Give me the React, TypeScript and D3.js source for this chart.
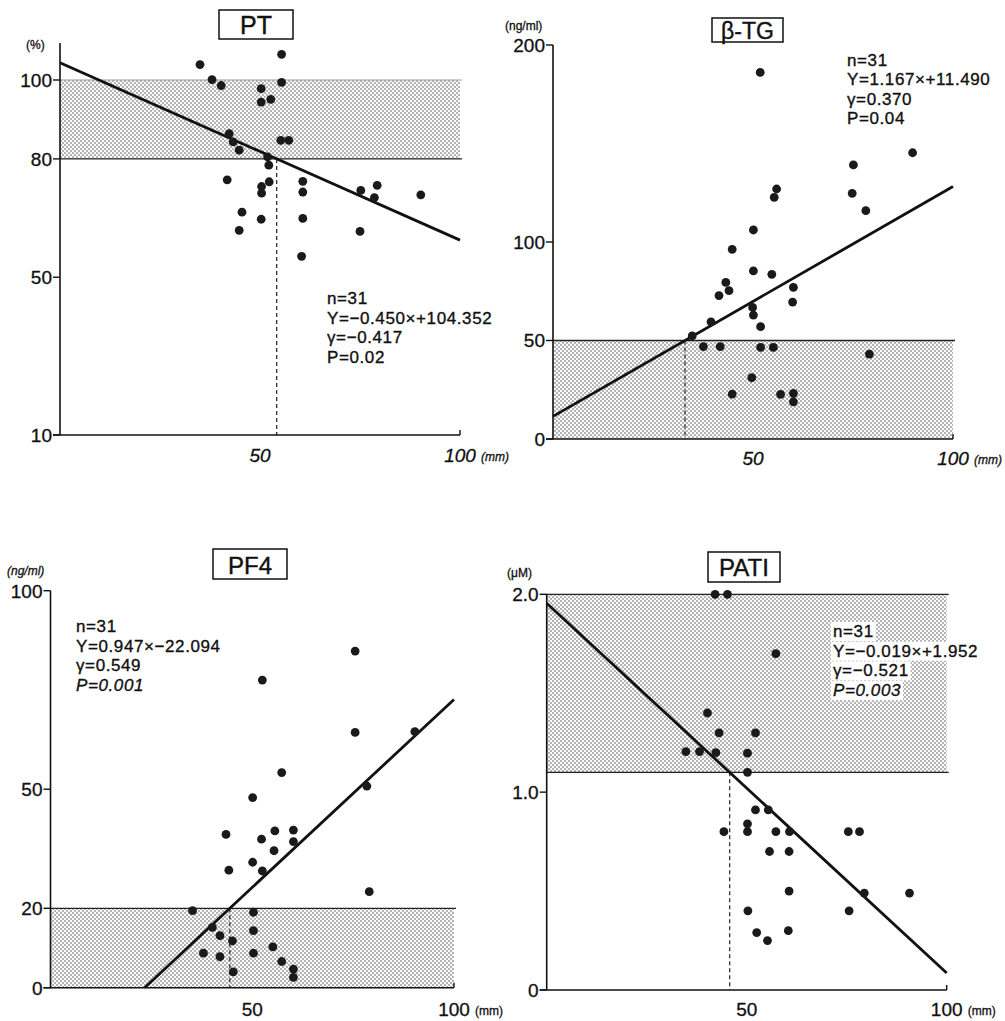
import React, { useEffect, useRef } from 'react';
import * as d3 from 'd3';

// ---------- data ----------
const ptX = [35, 38, 40.3, 50.3, 50.3, 52.7, 55.4, 55.4, 55.2, 57.2, 42.3, 43.3, 44.8, 51.9, 52.2, 41.8, 50.4, 50.4, 52.3, 60.7, 60.7, 60.7, 60.4, 45.5, 44.8, 50.3, 75.2, 79.3, 78.6, 90.2, 75];
const ptY = [103.9, 100.1, 98.6, 97.8, 94.4, 95.1, 106.5, 99.4, 84.7, 84.7, 86.4, 84.3, 82.2, 80.5, 78.4, 74.7, 73.0, 71.3, 74.2, 74.3, 71.6, 64.9, 55.3, 66.5, 61.9, 64.7, 72.0, 73.3, 70.2, 70.9, 61.6];

const tgX = [51.8, 89.9, 75.1, 74.8, 78.2, 55.9, 55.3, 50.1, 44.8, 50.1, 54.7, 43.2, 44, 41.5, 60.1, 59.9, 49.9, 50.1, 51.9, 39.5, 34.8, 37.6, 41.8, 51.9, 55.1, 79.1, 49.7, 44.8, 56.9, 60.1, 60.1];
const tgY = [186.1, 145.3, 139.1, 124.7, 115.9, 126.9, 122.7, 106.1, 96.3, 85.3, 83.6, 79.5, 75.3, 72.8, 77.0, 69.5, 66.8, 62.9, 57.0, 59.5, 52.3, 46.9, 46.9, 46.5, 46.5, 43.1, 31.1, 22.8, 22.7, 23.2, 18.9];

const pf4X = [75.5, 52.5, 75.5, 90.3, 57.3, 78.4, 50.1, 43.5, 55.6, 60.2, 52.3, 60.2, 55.4, 50.1, 44.2, 52.5, 79.0, 35.2, 50.3, 40.1, 50.3, 42.0, 45.1, 55.1, 37.9, 42.0, 50.3, 57.3, 45.3, 60.2, 60.2];
const pf4Y = [84.8, 77.5, 64.3, 64.5, 54.2, 50.8, 47.9, 38.6, 39.5, 39.7, 37.4, 36.8, 34.5, 31.6, 29.6, 29.4, 24.2, 19.4, 19.0, 15.2, 14.4, 13.1, 11.8, 10.3, 8.7, 7.8, 8.7, 6.6, 4.0, 4.7, 2.6];

const patiX = [42.1, 45.2, 57.3, 40.2, 43.1, 52.2, 34.8, 38.2, 42.3, 50.2, 50.2, 52.2, 55.4, 50.2, 50.2, 44.3, 57.3, 60.7, 75.4, 78.2, 55.7, 60.6, 60.6, 79.4, 90.7, 50.3, 75.6, 52.5, 60.4, 55.2];
const patiY = [2.0, 2.0, 1.70, 1.40, 1.30, 1.30, 1.205, 1.205, 1.20, 1.197, 1.10, 0.91, 0.91, 0.84, 0.80, 0.80, 0.80, 0.80, 0.80, 0.80, 0.70, 0.70, 0.50, 0.49, 0.49, 0.40, 0.40, 0.29, 0.30, 0.25];

const titles = ['PT', 'β-TG', 'PF4', 'PATI'];
const yUnits = ['(%)', '(ng/ml)', '(ng/ml)', '(μM)'];
const ptTicks = [10, 50, 80, 100];
const tgTicks = [0, 50, 100, 200];
const pf4Ticks = [0, 20, 50, 100];
const patiTicks = [0, 1.0, 2.0];
const xTicks = [50, 100];
const xUnit = '(mm)';

// normal ranges (shaded bands)
const ptBand = [80, 100];
const tgBand = [0, 50];
const pf4Band = [0, 20];
const patiBand = [1.1, 2.0];

// regression line values at X=0 and X=100
const ptFit = [104.35, 59.4];
const tgFit = [11.49, 128.19];
const pf4Fit = [-22.09, 72.61];
const patiFit = [1.955, 0.086];

// threshold where the dashed drop line starts
const ptCut = 80;
const tgCut = 50;
const pf4Cut = 20;
const patiCut = 1.1;

const ptStats = ['n=31', 'Y=−0.450×+104.352', 'γ=−0.417', 'P=0.02'];
const tgStats = ['n=31', 'Y=1.167×+11.490', 'γ=0.370', 'P=0.04'];
const pf4Stats = ['n=31', 'Y=0.947×−22.094', 'γ=0.549', 'P=0.001'];
const patiStats = ['n=31', 'Y=−0.019×+1.952', 'γ=−0.521', 'P=0.003'];

const FONT = "'Liberation Sans', Arial, Helvetica, sans-serif";

type Panel = {
  title: string; titleBox: number[]; titleSize: number; titleBase: number;
  xs: number[]; ys: number[]; xr: number[]; yd: number[]; yr: number[]; axisTop: number;
  ticks: number[]; fmt: (v: number) => string; unit: string; unitPos: number[];
  band: number[]; bandTopGray: boolean; fit: number[]; cut: number;
  stats: string[]; statsPos: number[]; statsDy: number; italicP: boolean; italicX: boolean;
  xLabelBase: number; whiteBg: boolean; unitItalic: boolean;
};

const panels: Panel[] = [
  {
    title: titles[0], titleBox: [219, 10, 74, 29], titleSize: 25, titleBase: 33.5,
    xs: ptX, ys: ptY, xr: [60, 460], yd: [10, 100], yr: [435, 80], axisTop: 43,
    ticks: ptTicks, fmt: d3.format('d'), unit: yUnits[0], unitPos: [26, 49],
    band: ptBand, bandTopGray: true, fit: ptFit, cut: ptCut,
    stats: ptStats, statsPos: [327, 304], statsDy: 19.7, italicP: false, italicX: true,
    xLabelBase: 462, whiteBg: false, unitItalic: false,
  },
  {
    title: titles[1], titleBox: [712, 18, 71, 24], titleSize: 23, titleBase: 38.5,
    xs: tgX, ys: tgY, xr: [553, 953], yd: [0, 200], yr: [439, 45], axisTop: 45,
    ticks: tgTicks, fmt: d3.format('d'), unit: yUnits[1], unitPos: [505, 30],
    band: tgBand, bandTopGray: false, fit: tgFit, cut: tgCut,
    stats: tgStats, statsPos: [847, 66], statsDy: 19.3, italicP: false, italicX: true,
    xLabelBase: 465, whiteBg: false, unitItalic: false,
  },
  {
    title: titles[2], titleBox: [213, 549, 74, 30], titleSize: 24, titleBase: 573.5,
    xs: pf4X, ys: pf4Y, xr: [50.5, 454], yd: [0, 100], yr: [987.7, 590.7], axisTop: 590.7,
    ticks: pf4Ticks, fmt: d3.format('d'), unit: yUnits[2], unitPos: [7, 575],
    band: pf4Band, bandTopGray: false, fit: pf4Fit, cut: pf4Cut,
    stats: pf4Stats, statsPos: [76, 632], statsDy: 19.6, italicP: true, italicX: false,
    xLabelBase: 1016, whiteBg: false, unitItalic: true,
  },
  {
    title: titles[3], titleBox: [708, 552, 72, 30], titleSize: 24, titleBase: 576,
    xs: patiX, ys: patiY, xr: [546.7, 946.7], yd: [0, 2], yr: [990, 594.3], axisTop: 594.3,
    ticks: patiTicks, fmt: (v: number) => (v === 0 ? '0' : d3.format('.1f')(v)), unit: yUnits[3], unitPos: [507, 577],
    band: patiBand, bandTopGray: false, fit: patiFit, cut: patiCut,
    stats: patiStats, statsPos: [833, 637], statsDy: 19.7, italicP: true, italicX: false,
    xLabelBase: 1016, whiteBg: true, unitItalic: false,
  },
];

export default function App() {
  const ref = useRef<SVGSVGElement>(null);

  useEffect(() => {
    const svg = d3.select(ref.current);
    svg.selectAll('*').remove();

    const defs = svg.append('defs');
    const pat = defs.append('pattern').attr('id', 'stipple').attr('patternUnits', 'userSpaceOnUse')
      .attr('width', 4).attr('height', 4);
    pat.append('rect').attr('width', 4).attr('height', 4).attr('fill', '#fafafa');
    pat.append('circle').attr('cx', 1).attr('cy', 1).attr('r', 0.8).attr('fill', '#5a5a5a');
    pat.append('circle').attr('cx', 3).attr('cy', 3).attr('r', 0.8).attr('fill', '#5a5a5a');

    svg.append('rect').attr('width', 1005).attr('height', 1021).attr('fill', '#fff');

    panels.forEach((p) => {
      const g = svg.append('g').attr('font-family', FONT);
      const x = d3.scaleLinear().domain([0, 100]).range(p.xr);
      const y = d3.scaleLinear().domain(p.yd).range(p.yr);
      const fitY = (v: number) => p.fit[0] + (p.fit[1] - p.fit[0]) * v / 100;

      // band
      g.append('rect').attr('x', x(0)).attr('y', y(p.band[1]))
        .attr('width', x(100) - x(0)).attr('height', y(p.band[0]) - y(p.band[1]))
        .attr('fill', 'url(#stipple)');
      g.append('line').attr('x1', x(0)).attr('x2', x(100) + 2).attr('y1', y(p.band[1])).attr('y2', y(p.band[1]))
        .attr('stroke', p.bandTopGray ? '#999' : '#222').attr('stroke-width', p.bandTopGray ? 1 : 1.3);
      if (p.band[0] > p.yd[0]) {
        g.append('line').attr('x1', x(0)).attr('x2', x(100) + 2).attr('y1', y(p.band[0])).attr('y2', y(p.band[0]))
          .attr('stroke', '#222').attr('stroke-width', 1.3);
      }

      // dashed drop line
      const xc = (p.cut - p.fit[0]) / (p.fit[1] - p.fit[0]) * 100;
      g.append('line').attr('x1', x(xc)).attr('x2', x(xc)).attr('y1', y(p.cut)).attr('y2', y(p.yd[0]))
        .attr('stroke', '#222').attr('stroke-width', 1.2).attr('stroke-dasharray', '4,3');

      // stats text
      const st = g.append('g').attr('font-size', 17).attr('fill', '#111').attr('letter-spacing', 0.6)
        .attr('stroke', '#111').attr('stroke-width', 0.35);
      p.stats.forEach((s, i) => {
        const t = st.append('text').attr('x', p.statsPos[0]).attr('y', p.statsPos[1] + i * p.statsDy)
          .attr('font-style', p.italicP && i === 3 ? 'italic' : 'normal').text(s);
        if (p.whiteBg) {
          const bb = (t.node() as SVGTextElement).getBBox();
          st.insert('rect', 'text').attr('x', bb.x - 2).attr('y', bb.y).attr('width', bb.width + 4)
            .attr('height', bb.height).attr('fill', '#fff').attr('stroke', 'none');
        }
      });

      // regression line
      let xs0 = 0;
      if (fitY(0) < p.yd[0]) xs0 = (p.yd[0] - p.fit[0]) / (p.fit[1] - p.fit[0]) * 100;
      g.append('path')
        .attr('d', d3.line<number>().x((v) => x(v)).y((v) => y(fitY(v)))([xs0, 100]))
        .attr('stroke', '#111').attr('stroke-width', 2.8).attr('fill', 'none');

      // points
      g.append('g').selectAll('circle').data(p.xs).join('circle')
        .attr('cx', (d) => x(d)).attr('cy', (_d, i) => y(p.ys[i])).attr('r', 4.4).attr('fill', '#1a1a1a');

      // axes
      const y0 = y(p.yd[0]);
      g.append('line').attr('x1', x(0)).attr('x2', x(0)).attr('y1', p.axisTop).attr('y2', y0)
        .attr('stroke', '#111').attr('stroke-width', 1.6);
      g.append('line').attr('x1', x(0) - 7).attr('x2', x(100)).attr('y1', y0).attr('y2', y0)
        .attr('stroke', '#111').attr('stroke-width', 1.6);
      const lab = g.append('g').attr('fill', '#111').attr('stroke', '#111').attr('stroke-width', 0.3);
      p.ticks.forEach((v) => {
        g.append('line').attr('x1', x(0) - 7).attr('x2', x(0)).attr('y1', y(v)).attr('y2', y(v))
          .attr('stroke', '#111').attr('stroke-width', 1.4);
        lab.append('text').attr('x', x(0) - 8).attr('y', y(v)).attr('dy', '0.36em')
          .attr('text-anchor', 'end').attr('font-size', 19).text(p.fmt(v));
      });
      xTicks.forEach((v) => {
        if (v === 100) {
          g.append('line').attr('x1', x(v)).attr('x2', x(v)).attr('y1', y0).attr('y2', y0 - 5)
            .attr('stroke', '#111').attr('stroke-width', 1.4);
        }
        lab.append('text').attr('x', x(v)).attr('y', p.xLabelBase).attr('text-anchor', 'middle')
          .attr('font-size', 19).attr('font-style', p.italicX ? 'italic' : 'normal')
          .text(d3.format('d')(v));
      });
      lab.append('text').attr('x', x(100) + 21).attr('y', p.xLabelBase - 1).attr('font-size', 12)
        .attr('font-style', p.italicX ? 'italic' : 'normal').text(xUnit);
      lab.append('text').attr('x', p.unitPos[0]).attr('y', p.unitPos[1]).attr('font-size', 12)
        .attr('font-style', p.unitItalic ? 'italic' : 'normal').text(p.unit);

      // title box
      const [bx, by, bw, bh] = p.titleBox;
      g.append('rect').attr('x', bx).attr('y', by).attr('width', bw).attr('height', bh)
        .attr('fill', '#fff').attr('stroke', '#111').attr('stroke-width', 1.5);
      g.append('text').attr('x', bx + bw / 2).attr('y', p.titleBase).attr('text-anchor', 'middle')
        .attr('font-size', p.titleSize).attr('fill', '#111').attr('stroke', '#111').attr('stroke-width', 0.4)
        .text(p.title);
    });
  }, []);

  return (
    <svg ref={ref} width={1005} height={1021}
      style={{ position: 'absolute', left: 0, top: 0, display: 'block' }} />
  );
}
